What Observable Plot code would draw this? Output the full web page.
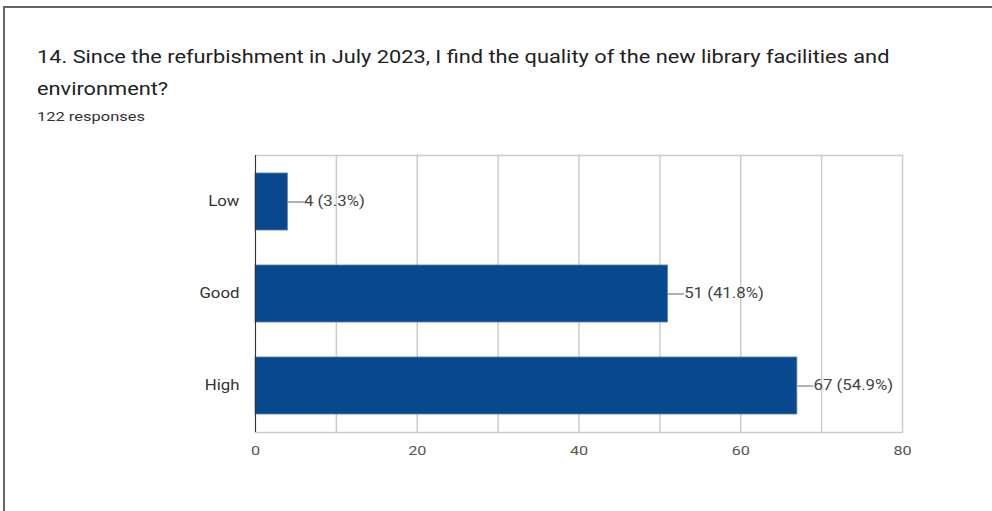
<!DOCTYPE html>
<html>
<head>
<meta charset="utf-8">
<script src="https://cdn.jsdelivr.net/npm/d3@7"></script>
<script src="https://cdn.jsdelivr.net/npm/@observablehq/plot@0.6"></script>
<style>
  html, body { margin: 0; padding: 0; background: #fff; }
  body { width: 992px; height: 511px; overflow: hidden; position: relative; font-family: Roboto, "Noto Sans", sans-serif; }
  #frame { position: absolute; left: 3px; top: 6px; width: 1100px; height: 700px; border: 2px solid #666; box-sizing: border-box; }
  #title { position: absolute; left: 37px; top: 41px; font-size: 18px; line-height: 32px; color: #202124; white-space: nowrap; transform: scaleX(1.21); transform-origin: 0 0; }
  #sub { position: absolute; left: 37px; top: 108px; font-size: 13.5px; line-height: 16px; color: #333; white-space: nowrap; transform: scaleX(1.22); transform-origin: 0 0; }
  #chart { position: absolute; left: 0; top: 140px; }
</style>
</head>
<body>
<div id="frame"></div>
<div id="title">14. Since the refurbishment in July 2023, I find the quality of the new library facilities and<br>environment?</div>
<div id="sub">122 responses</div>
<div id="chart"></div>
<script>
const categories = ["Low", "Good", "High"];
const counts = [4, 51, 67];
const percents = [3.3, 41.8, 54.9];
const xTicks = [0, 20, 40, 60, 80];
const gridTicks = [10, 20, 30, 40, 50, 60, 70];

const data = categories.map((c, i) => ({category: c, count: counts[i], pct: percents[i]}));
const leader = 2; // leader line length in data units

const chart = Plot.plot({
  width: 992,
  height: 330,
  marginLeft: 255,
  marginRight: 90,
  marginTop: 15,
  marginBottom: 38,
  style: {fontFamily: "Roboto, sans-serif", background: "transparent"},
  x: {domain: [0, 80], ticks: xTicks, tickSize: 0, tickPadding: 13, label: null},
  y: {domain: categories, paddingInner: 0.38, paddingOuter: 0.19, tickSize: 0, tickPadding: 16, label: null},
  marks: [
    Plot.ruleX(gridTicks, {stroke: "#cccccc", strokeWidth: 1.5}),
    Plot.frame({stroke: "#cccccc", strokeWidth: 1.5}),
    Plot.barX(data, {x: "count", y: "category", fill: "#08488f", stroke: "#5a7fb0", strokeWidth: 0.8}),
    Plot.ruleX([0], {stroke: "#333", strokeWidth: 1}),
    Plot.link(data, {x1: "count", x2: d => d.count + leader, y1: "category", y2: "category", stroke: "#999", strokeWidth: 1.5}),
    Plot.text(data, {x: d => d.count + leader, y: "category", text: d => `${d.count} (${d.pct}%)`, textAnchor: "start", dx: 0, fill: "#444", fontSize: 14}),
    Plot.axisX({ticks: xTicks, tickSize: 0, tickPadding: 13, fontSize: 13.5, color: "#555"}),
    Plot.axisY({tickSize: 0, tickPadding: 16, fontSize: 14, color: "#333"})
  ]
});
document.getElementById("chart").appendChild(chart);

// horizontally widen all chart texts about their anchor, as in the reference
const sx = 1.2;
chart.querySelectorAll("text").forEach(t => {
  const bb = t.getBBox();
  const anchor = getComputedStyle(t).textAnchor;
  const ax = anchor === "end" ? bb.x + bb.width : anchor === "middle" ? bb.x + bb.width / 2 : bb.x;
  const base = t.transform.baseVal.consolidate();
  const m = base ? base.matrix : chart.createSVGMatrix();
  const m2 = m.translate(ax, 0).scaleNonUniform(sx, 1).translate(-ax, 0);
  t.setAttribute("transform", `matrix(${m2.a},${m2.b},${m2.c},${m2.d},${m2.e},${m2.f})`);
});
</script>
</body>
</html>
